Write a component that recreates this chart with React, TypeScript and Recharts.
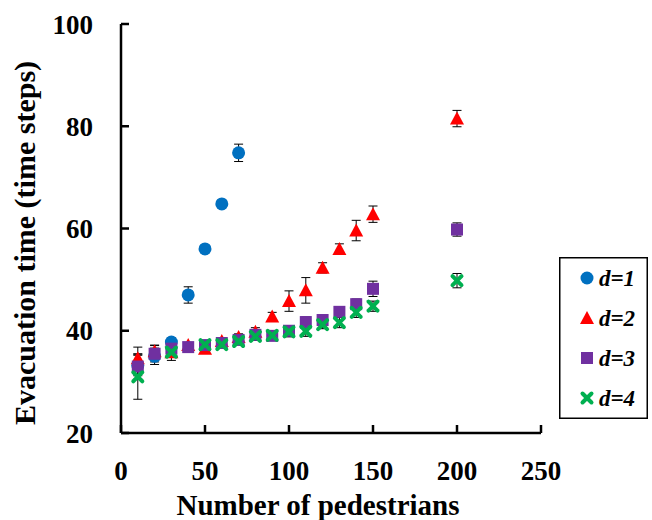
import React from 'react';
import { ScatterChart, Scatter, XAxis, YAxis, ErrorBar, Legend } from 'recharts';

const serif = '"Liberation Serif", "Times New Roman", serif';

const xTicks = [0, 50, 100, 150, 200, 250];
const yTicks = [20, 40, 60, 80, 100];

// d=1
const d1X = [10, 20, 30, 40, 50, 60, 70];
const d1Y = [33.2, 35, 37.8, 47, 56, 64.8, 74.8];
const d1Err = [2, 1.6, 0.8, 1.6, 0.5, 0.5, 1.7];

// d=2
const d2X = [10, 20, 30, 40, 50, 60, 70, 80, 90, 100, 110, 120, 130, 140, 150, 200];
const d2Y = [34.6, 36, 35.8, 37.2, 36.5, 38, 38.8, 39.8, 42.8, 45.8, 47.9, 52.3, 56, 59.6, 62.8, 81.5];
const d2Err = [2.2, 1.2, 1, 0.5, 0.5, 0.5, 0.6, 0.8, 0.8, 2, 2.5, 1, 1, 2, 1.6, 1.6];

// d=3
const d3X = [10, 20, 30, 40, 50, 60, 70, 80, 90, 100, 110, 120, 130, 140, 150, 200];
const d3Y = [33, 35.5, 36.5, 36.8, 37.2, 37.6, 38.2, 39.2, 39, 40, 41.7, 42.1, 43.7, 45.2, 48.2, 59.8];
const d3Err = [2.5, 1.6, 1, 0.5, 0.5, 0.5, 0.6, 0.8, 0.8, 1, 1, 0.8, 1, 1, 1.5, 1.3];

// d=4
const d4X = [10, 30, 50, 60, 70, 80, 90, 100, 110, 120, 130, 140, 150, 200];
const d4Y = [31, 35.8, 37.3, 37.3, 37.9, 38.9, 39.1, 39.8, 39.9, 41.2, 41.6, 43.6, 44.8, 49.8];
const d4Err = [4.4, 1.6, 0.6, 0.6, 0.6, 0.8, 0.8, 1, 1, 0.8, 1, 1, 1, 1.4];

const toRows = (xs: number[], ys: number[], errs: number[]) =>
  xs.map((x, i) => ({ x, y: ys[i], err: errs[i] }));

const COLORS = { d1: '#0070C0', d2: '#FF0000', d3: '#7030A0', d4: '#00B050' };

const Marker = ({ kind, cx, cy }: { kind: string; cx: number; cy: number }) => {
  if (kind === 'circle') return <circle cx={cx} cy={cy} r={6.5} fill={COLORS.d1} />;
  if (kind === 'triangle')
    return <polygon points={`${cx},${cy - 7} ${cx - 7},${cy + 6} ${cx + 7},${cy + 6}`} fill={COLORS.d2} />;
  if (kind === 'square') return <rect x={cx - 6} y={cy - 6} width={12} height={12} fill={COLORS.d3} />;
  return (
    <g stroke={COLORS.d4} strokeWidth={4} strokeLinecap="round">
      <line x1={cx - 4.5} y1={cy - 4.5} x2={cx + 4.5} y2={cy + 4.5} />
      <line x1={cx - 4.5} y1={cy + 4.5} x2={cx + 4.5} y2={cy - 4.5} />
    </g>
  );
};

const series = [
  { name: 'd=1', kind: 'circle', data: toRows(d1X, d1Y, d1Err) },
  { name: 'd=2', kind: 'triangle', data: toRows(d2X, d2Y, d2Err) },
  { name: 'd=3', kind: 'square', data: toRows(d3X, d3Y, d3Err) },
  { name: 'd=4', kind: 'cross', data: toRows(d4X, d4Y, d4Err) },
];

const renderLegend = () => (
  <svg width={89} height={162} style={{ display: 'block' }}>
    <rect x={0.75} y={0.75} width={87.5} height={160.5} fill="#fff" stroke="#000" strokeWidth={1.5} />
    {series.map((s, i) => {
      const cy = 21 + i * 40;
      return (
        <g key={s.name}>
          <Marker kind={s.kind} cx={28} cy={cy} />
          <text
            x={40}
            y={cy + 8}
            fontFamily={serif}
            fontSize={23}
            fontWeight="bold"
            fontStyle="italic"
            fill="#000"
          >
            {s.name}
          </text>
        </g>
      );
    })}
  </svg>
);

const axisLine = { stroke: '#000', strokeWidth: 2.5 };
const tickStyle = { fill: '#000', fontSize: 27, fontWeight: 'bold', fontFamily: serif };

// y tick labels sit further out than recharts puts them
const YTick = ({ y, payload }: any) => (
  <text x={93} y={y} dy="0.355em" textAnchor="end" {...tickStyle}>
    {payload.value}
  </text>
);

const XTitle = () => (
  <text x={318} y={515} textAnchor="middle" fontFamily={serif} fontSize={29} fontWeight="bold" fill="#000">
    Number of pedestrians
  </text>
);

const YTitle = () => (
  <text
    x={35}
    y={243}
    transform="rotate(-90 35 243)"
    textAnchor="middle"
    fontFamily={serif}
    fontSize={30}
    fontWeight="bold"
    fill="#000"
  >
    Evacuation time (time steps)
  </text>
);

export default function App() {
  return (
    <div style={{ position: 'absolute', left: 0, top: 0, width: 652, height: 520, background: '#fff' }}>
      <ScatterChart width={652} height={520} margin={{ top: 24, right: 111, bottom: 0, left: 0 }}>
        <XAxis
          xAxisId="b"
          dataKey="x"
          type="number"
          domain={[0, 250]}
          ticks={xTicks}
          interval={0}
          allowDataOverflow
          height={87}
          axisLine={axisLine}
          tickLine={axisLine}
          tickSize={-8}
          tickMargin={36}
          tick={tickStyle}
          label={{ content: XTitle }}
        />
        <XAxis
          xAxisId="t"
          orientation="top"
          type="number"
          domain={[0, 250]}
          ticks={xTicks}
          interval={0}
          allowDataOverflow
          height={0}
          axisLine={axisLine}
          tickLine={axisLine}
          tickSize={-8}
          tickFormatter={() => ''}
        />
        <YAxis
          yAxisId="l"
          dataKey="y"
          type="number"
          domain={[20, 100]}
          ticks={yTicks}
          interval={0}
          allowDataOverflow
          width={121}
          axisLine={axisLine}
          tickLine={axisLine}
          tickSize={-8}
          tick={<YTick />}
          label={{ content: YTitle }}
        />
        <YAxis
          yAxisId="r"
          orientation="right"
          type="number"
          domain={[20, 100]}
          ticks={yTicks}
          interval={0}
          allowDataOverflow
          width={0}
          axisLine={axisLine}
          tickLine={axisLine}
          tickSize={-8}
          tickFormatter={() => ''}
        />
        {series.map((s) => (
          <Scatter
            key={s.name}
            name={s.name}
            data={s.data}
            xAxisId="b"
            yAxisId="l"
            isAnimationActive={false}
            shape={(p: any) => <Marker kind={s.kind} cx={p.cx} cy={p.cy} />}
          >
            <ErrorBar dataKey="err" direction="y" width={4.5} stroke="#000" strokeWidth={1} />
          </Scatter>
        ))}
        <Legend
          layout="vertical"
          align="center"
          verticalAlign="middle"
          content={renderLegend}
          wrapperStyle={{ position: 'absolute', left: 559, top: 257, width: 89, height: 162 }}
        />
      </ScatterChart>
    </div>
  );
}
